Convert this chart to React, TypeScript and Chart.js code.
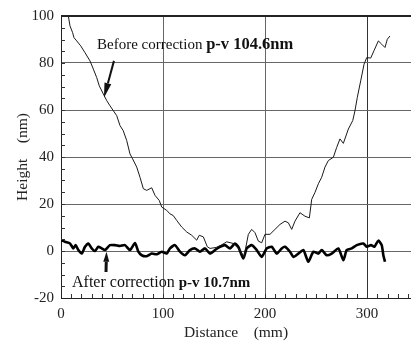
import React, { useEffect, useRef } from "react";
import { Chart, registerables } from "chart.js";

Chart.register(...registerables);

const beforeX = [7.2, 8.8, 11.4, 12.7, 15.4, 19.3, 23.5, 28.4, 31.7, 35, 37.5, 41.5, 44.8, 48, 51.3, 54.6, 57.8, 61, 64.4, 67.6, 70.2, 74.2, 77.4, 80.7, 84, 88.9, 92.1, 96.3, 98.7, 103.6, 106.8, 110, 113.4, 118.3, 123.2, 128.1, 133, 135.5, 139.5, 143.4, 146, 152, 157, 162.4, 168.9, 175.4, 179.3, 183.6, 186.9, 190.1, 193.4, 196.7, 199.9, 204.8, 209.7, 214.6, 219.5, 222.8, 226.1, 229.3, 234.2, 239.1, 243.4, 245.7, 248.9, 252.2, 255.5, 258.7, 262, 266.9, 270.2, 273.4, 276.7, 281.6, 285.9, 288.1, 290.4, 293.7, 297, 299.6, 303.5, 306.7, 311, 314.3, 317.5, 319.8, 322.4];
const beforeY = [100, 95.8, 92.9, 90.8, 89.4, 87.3, 84.4, 80.9, 77.4, 73.8, 70.3, 66.8, 64, 61.8, 59.7, 57.6, 53.4, 51.2, 47, 41.3, 39.2, 35.7, 31.4, 26.5, 25.8, 26.9, 23.7, 21.5, 18.7, 17.3, 15.8, 15.1, 13, 10.2, 8.1, 6.7, 4.6, 6.7, 6, 1.8, 1.1, 1.5, 2.5, 3.9, 3.2, 0.3, -2.5, 7.1, 9.2, 7.8, 4.2, 3.5, 7.1, 7.1, 9.2, 11.3, 12.7, 12, 9.2, 12.7, 16.3, 14.8, 14.1, 22, 24.9, 28.6, 31.4, 35.7, 38.5, 39.9, 44.1, 47.7, 45.8, 51.9, 55.5, 59.7, 65.4, 72.4, 79.5, 82.3, 82.1, 85.2, 89.4, 88, 86.6, 90.1, 91.5];

const afterX = [0.5, 3.9, 8.8, 12.1, 14.4, 17, 20.3, 23.5, 26.8, 30.1, 33.3, 36.6, 39.9, 43.1, 48, 52.9, 57.8, 62.7, 67.6, 72.5, 75.8, 79.1, 84, 88.9, 93.8, 98.7, 103.6, 106.8, 111.7, 116.6, 121.5, 126.4, 131.3, 136.2, 141.1, 146, 150.9, 155.8, 160.7, 165.6, 170.5, 173.8, 178.7, 182, 186.9, 191.8, 196.7, 201.6, 206.5, 211.4, 216.3, 219.5, 224.4, 227.7, 232.6, 237.5, 242.4, 247.3, 252.2, 255.5, 260.4, 265.3, 271.8, 276.7, 280, 284.9, 289.8, 296.3, 299.6, 303.8, 307.1, 311, 314.3, 315.9, 317.5];
const afterY = [4.6, 3.9, 3.2, 1.1, 2.5, 0.4, -1.1, 1.8, 3.2, 1.1, 0, 1.8, 1.1, 0.4, 2.5, 2.5, 2.1, 2.5, 0.4, 3.4, -0.3, -1.8, -2.2, -1.1, -1.4, -0.3, -1.1, 1.1, 2.5, -0.3, -1.8, 0.4, 1.1, -0.3, 1.1, -1.1, 0.4, 1.8, 2.5, 1.1, 3.2, 1.8, -3.2, 1.1, 2.5, 0.4, -2.5, 1.1, 1.8, -1.1, 1.1, 1.8, -0.3, -2.5, -1.1, 0.4, -4.6, -0.3, -1.1, 0.4, -1.8, -1.1, 1.1, -3.9, 0.4, 1.1, 2.5, 3.2, 1.8, 2.5, 1.8, 4.4, 2.5, -1.8, -4.6];

const xMajorTicks = [0, 100, 200, 300];
const yMajorTicks = [-20, 0, 20, 40, 60, 80, 100];
const xTitle = "Distance    (mm)";
const yTitle = "Height    (nm)";
const beforeLabel = ["Before correction ", "p-v 104.6nm"];
const afterLabel = ["After correction ", "p-v 10.7nm"];

const FONT = "'Liberation Serif', 'Times New Roman', serif";

function arrow(ctx: CanvasRenderingContext2D, x1: number, y1: number, x2: number, y2: number, w: number, headLen: number, headW: number) {
  const a = Math.atan2(y2 - y1, x2 - x1);
  const bx = x2 - headLen * Math.cos(a);
  const by = y2 - headLen * Math.sin(a);
  ctx.beginPath();
  ctx.moveTo(x1, y1);
  ctx.lineTo(bx, by);
  ctx.lineWidth = w;
  ctx.strokeStyle = "#111";
  ctx.stroke();
  ctx.beginPath();
  ctx.moveTo(x2, y2);
  ctx.lineTo(bx + headW * Math.sin(a), by - headW * Math.cos(a));
  ctx.lineTo(bx - headW * Math.sin(a), by + headW * Math.cos(a));
  ctx.closePath();
  ctx.fillStyle = "#111";
  ctx.fill();
}

const decor = {
  id: "decor",
  afterDraw(chart: any) {
    const ctx: CanvasRenderingContext2D = chart.ctx;
    const xs = chart.scales.x;
    const ys = chart.scales.y;
    const { left, right, top, bottom } = chart.chartArea;
    ctx.save();
    ctx.strokeStyle = "#333";
    ctx.lineWidth = 1;
    ctx.beginPath();
    for (let v = 10; v < xs.max; v += 10) {
      const px = Math.round(xs.getPixelForValue(v)) + 0.5;
      ctx.moveTo(px, bottom);
      ctx.lineTo(px, bottom - 4);
    }
    for (let v = -15; v < 100; v += 5) {
      const py = Math.round(ys.getPixelForValue(v)) + 0.5;
      ctx.moveTo(left, py);
      ctx.lineTo(left + 4, py);
    }
    ctx.stroke();
    ctx.beginPath();
    ctx.moveTo(left, top);
    ctx.lineTo(right, top);
    ctx.lineWidth = 2;
    ctx.strokeStyle = "#222";
    ctx.stroke();

    ctx.fillStyle = "#111";
    ctx.textBaseline = "alphabetic";
    ctx.textAlign = "left";
    let tx = xs.getPixelForValue(35.3);
    let ty = ys.getPixelForValue(86);
    ctx.font = `15px ${FONT}`;
    ctx.fillText(beforeLabel[0], tx, ty);
    tx += ctx.measureText(beforeLabel[0]).width;
    ctx.font = `bold 16.5px ${FONT}`;
    ctx.fillText(beforeLabel[1], tx, ty);

    tx = xs.getPixelForValue(10.8);
    ty = ys.getPixelForValue(-15.4);
    ctx.font = `16px ${FONT}`;
    ctx.fillText(afterLabel[0], tx, ty);
    tx += ctx.measureText(afterLabel[0]).width;
    ctx.font = `bold 15px ${FONT}`;
    ctx.fillText(afterLabel[1], tx, ty);

    arrow(ctx, xs.getPixelForValue(51.9), ys.getPixelForValue(80.9), xs.getPixelForValue(42.1), ys.getPixelForValue(65.2), 2, 15, 3.5);
    arrow(ctx, xs.getPixelForValue(44.1), ys.getPixelForValue(-8.9), xs.getPixelForValue(44.6), ys.getPixelForValue(-0.3), 3, 10, 3);
    ctx.restore();
  },
};

export default function App() {
  const ref = useRef<HTMLCanvasElement>(null);
  useEffect(() => {
    document.body.style.margin = "0";
    const chart = new Chart(ref.current!, {
      type: "scatter",
      data: {
        datasets: [
          {
            label: "Before correction",
            data: beforeX.map((x, i) => ({ x, y: beforeY[i] })),
            showLine: true,
            borderColor: "#1a1a1a",
            borderWidth: 1,
            pointRadius: 0,
            tension: 0,
          },
          {
            label: "After correction",
            data: afterX.map((x, i) => ({ x, y: afterY[i] })),
            showLine: true,
            borderColor: "#000",
            borderWidth: 2.6,
            pointRadius: 0,
            tension: 0.2,
          },
        ],
      },
      options: {
        animation: false,
        responsive: true,
        maintainAspectRatio: false,
        layout: { padding: { top: 15, right: 0, left: 0, bottom: 0 } },
        plugins: { legend: { display: false }, tooltip: { enabled: false } },
        scales: {
          x: {
            type: "linear",
            min: 0,
            max: 343,
            afterFit: (s: any) => { s.height = 44; },
            afterBuildTicks: (s: any) => { s.ticks = xMajorTicks.map((v) => ({ value: v })); },
            ticks: { font: { family: FONT, size: 15 }, color: "#222", padding: 7, maxRotation: 0, autoSkip: false, includeBounds: false },
            grid: {
              drawTicks: false,
              color: (c: any) => (c.tick && c.tick.value === 0 ? "rgba(0,0,0,0)" : c.tick && c.tick.value === 300 ? "#333" : "#666"),
              lineWidth: 1,
            },
            border: { display: true, color: "#222", width: 1 },
            title: { display: true, text: xTitle, font: { family: FONT, size: 15.5 }, color: "#222", padding: { top: 0, bottom: 0 } },
          },
          y: {
            type: "linear",
            min: -20,
            max: 100,
            afterFit: (s: any) => { s.width = 61; },
            afterBuildTicks: (s: any) => { s.ticks = yMajorTicks.map((v) => ({ value: v })); },
            ticks: { font: { family: FONT, size: 15 }, color: "#222", padding: 7, autoSkip: false },
            grid: {
              drawTicks: false,
              color: (c: any) => (c.tick && (c.tick.value === -20 || c.tick.value === 100) ? "rgba(0,0,0,0)" : "#666"),
              lineWidth: 1,
            },
            border: { display: true, color: "#222", width: 1 },
            title: { display: true, text: yTitle, font: { family: FONT, size: 15.5 }, color: "#222", padding: { top: 14, bottom: 0 } },
          },
        },
      },
      plugins: [decor],
    } as any);
    return () => chart.destroy();
  }, []);
  return (
    <div style={{ position: "relative", width: 411, height: 342 }}>
      <canvas ref={ref} />
    </div>
  );
}
